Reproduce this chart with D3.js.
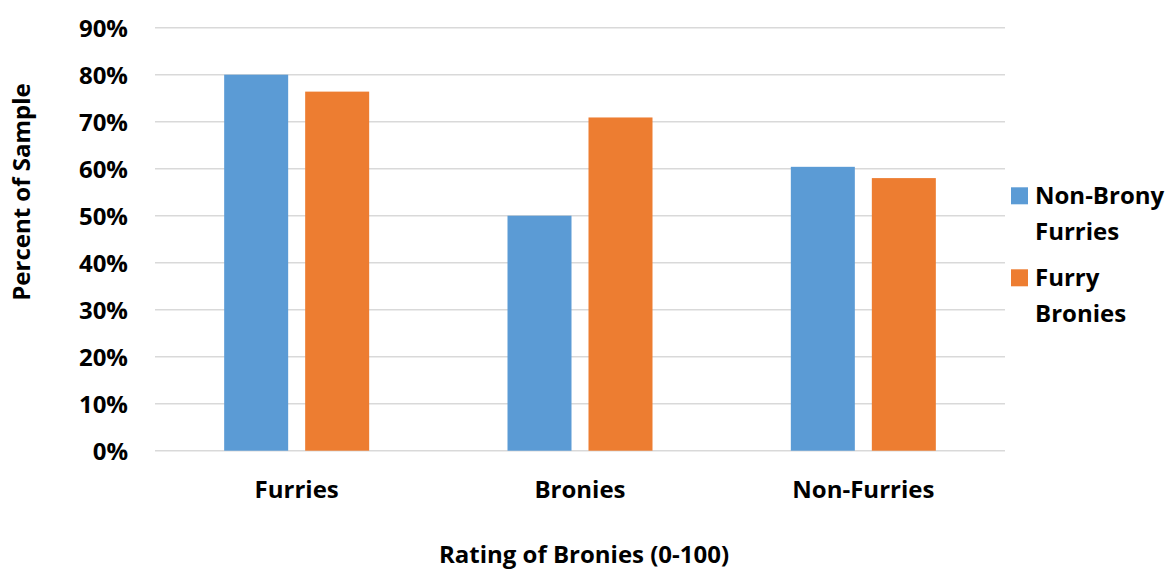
<!DOCTYPE html>
<html><head><meta charset="utf-8">
<script src="https://cdn.jsdelivr.net/npm/d3@7"></script>
<style>body{margin:0;background:#fff}svg text{font-family:"Open Sans",sans-serif;font-weight:700;fill:#000}</style>
</head><body><svg id="c" width="1167" height="571"></svg>
<script>
const categories = ["Furries", "Bronies", "Non-Furries"];
const seriesNames = ["Non-Brony Furries", "Furry Bronies"];
const nonBronyFurries = [80, 50, 60.4];
const furryBronies = [76.4, 70.9, 58];
const yTicks = [0, 10, 20, 30, 40, 50, 60, 70, 80, 90];
const colors = ["#5b9bd5", "#ed7d31"];
const legendLines = [["Non-Brony", "Furries"], ["Furry", "Bronies"]];

(function(){
const svg = d3.select("#c");
const FS = 24;
const pLeft = 155, pRight = 1005, pTop = 27.7, pBottom = 450.7;
const x = d3.scaleBand().domain(categories).range([pLeft, pRight]).paddingInner(0).paddingOuter(0);
const y = d3.scaleLinear().domain([0, 90]).range([pBottom, pTop]);
const sub = d3.scaleBand().domain(seriesNames).range([0, 145]).paddingInner(17/81).paddingOuter(0);

svg.append("g").selectAll("line").data(yTicks).join("line")
  .attr("x1", pLeft).attr("x2", pRight)
  .attr("y1", d => y(d)).attr("y2", d => y(d))
  .attr("stroke", "#d9d9d9").attr("stroke-width", 1.5);

const yAxis = d3.axisLeft(y).tickValues(yTicks).tickFormat(d => d + "%").tickSize(0).tickPadding(0);
const ya = svg.append("g").attr("transform", `translate(128,0)`).call(yAxis);
ya.select(".domain").remove();
ya.selectAll("text").attr("font-size", FS).attr("dy", "0.36em").attr("fill", "#000").style("font-family", '"Open Sans",sans-serif').style("font-weight", 700);

const series = [nonBronyFurries, furryBronies];
series.forEach((vals, si) => {
  svg.append("g").selectAll("rect").data(categories).join("rect")
    .attr("x", (c) => x(c) + x.bandwidth()/2 - 72.5 + sub(seriesNames[si]))
    .attr("width", sub.bandwidth())
    .attr("y", (c, i) => y(vals[i]))
    .attr("height", (c, i) => y(0) - y(vals[i]))
    .attr("fill", colors[si]);
});

const xAxis = d3.axisBottom(x).tickSize(0).tickPadding(0);
const xa = svg.append("g").attr("transform", `translate(0,498)`).call(xAxis);
xa.select(".domain").remove();
xa.selectAll("text").attr("font-size", FS).attr("dy", 0).attr("fill", "#000").style("font-family", '"Open Sans",sans-serif').style("font-weight", 700);

svg.append("text").attr("x", 584).attr("y", 563).attr("text-anchor", "middle").attr("font-size", FS).text("Rating of Bronies (0-100)");
svg.append("text").attr("transform", "translate(30,192) rotate(-90)").attr("text-anchor", "middle").attr("font-size", FS).text("Percent of Sample");

const lg = svg.append("g");
seriesNames.forEach((s, i) => {
  const y0 = 187.3 + i * 82;
  lg.append("rect").attr("x", 1011).attr("y", y0).attr("width", 17).attr("height", 17).attr("fill", colors[i]);
  legendLines[i].forEach((t, j) => {
    lg.append("text").attr("x", 1035).attr("y", y0 + 17 + j * 36).attr("font-size", FS).text(t);
  });
});
})();
</script></body></html>
